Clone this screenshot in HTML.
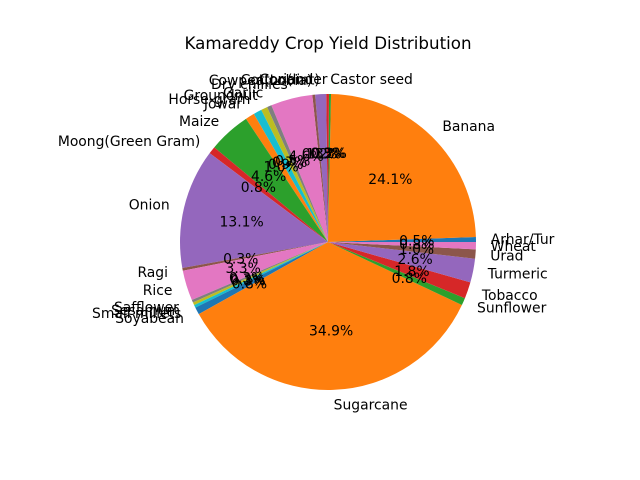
<!DOCTYPE html>
<html><head><meta charset="utf-8"><style>
body{margin:0;background:#fff}
svg{display:block;font-family:"DejaVu Sans","Liberation Sans",sans-serif}
</style></head><body>
<svg id="chart" width="640" height="480">
<rect width="640" height="480" fill="#fff"/>
<text x="328" y="49" text-anchor="middle" font-size="16.7" fill="#000">Kamareddy Crop Yield Distribution</text>
<g id="slices"></g>
<g id="labels"></g>
</svg>
<script>
const categories = ["Arhar/Tur","Banana","Castor seed","Coriander","Cotton(lint)","Cowpea(Lobia)","Dry chillies","Garlic","Groundnut","Horse-gram","Jowar","Maize","Moong(Green Gram)","Onion","Ragi","Rice","Safflower","Sesamum","Small millets","Soyabean","Sugarcane","Sunflower","Tobacco","Turmeric","Urad","Wheat"];
const values = [0.54,24.14,0.22,0.3,1.2,0.3,4.56,0.5,0.7,0.9,1.0,4.6,0.8,13.06,0.3,3.3,0.3,0.3,0.3,0.8,34.9,0.8,1.8,2.6,1.0,0.8];
const colors = ["#1f77b4","#ff7f0e","#2ca02c","#d62728","#9467bd","#8c564b","#e377c2","#7f7f7f","#bcbd22","#17becf","#ff7f0e","#2ca02c","#d62728","#9467bd","#8c564b","#e377c2","#7f7f7f","#bcbd22","#17becf","#1f77b4","#ff7f0e","#2ca02c","#d62728","#9467bd","#8c564b","#e377c2"];
const cx=328, cy=242, R=148;
const NS="http://www.w3.org/2000/svg";
const total=values.reduce((a,b)=>a+b,0);
const gS=document.getElementById('slices'), gL=document.getElementById('labels');
function pt(a,r){return [cx+r*Math.cos(a), cy-r*Math.sin(a)];}
let acc=0;
values.forEach((v,i)=>{
  const a0=acc/total*2*Math.PI; acc+=v; const a1=acc/total*2*Math.PI;
  const p0=pt(a0,R), p1=pt(a1,R);
  const large=(a1-a0)>Math.PI?1:0;
  const path=document.createElementNS(NS,'path');
  path.setAttribute('d',`M${cx},${cy} L${p0[0]},${p0[1]} A${R},${R} 0 ${large} 0 ${p1[0]},${p1[1]} Z`);
  path.setAttribute('fill',colors[i]);
  
  
  gS.appendChild(path);
  const am=(a0+a1)/2;
  const lp=pt(am,R*1.1);
  const t=document.createElementNS(NS,'text');
  t.setAttribute('x',lp[0]); t.setAttribute('y',lp[1]+5);
  t.setAttribute('font-size','13.9');
  t.setAttribute('text-anchor',Math.cos(am)<0?'end':'start');
  t.textContent=categories[i];
  
  
  gL.appendChild(t);
  const pp=pt(am,R*0.6);
  const t2=document.createElementNS(NS,'text');
  t2.setAttribute('x',pp[0]); t2.setAttribute('y',pp[1]+5);
  t2.setAttribute('font-size','13.9');
  t2.setAttribute('text-anchor','middle');
  t2.textContent=(v/total*100).toFixed(1)+'%';
  
  
  gL.appendChild(t2);
});
</script>
</body></html>
